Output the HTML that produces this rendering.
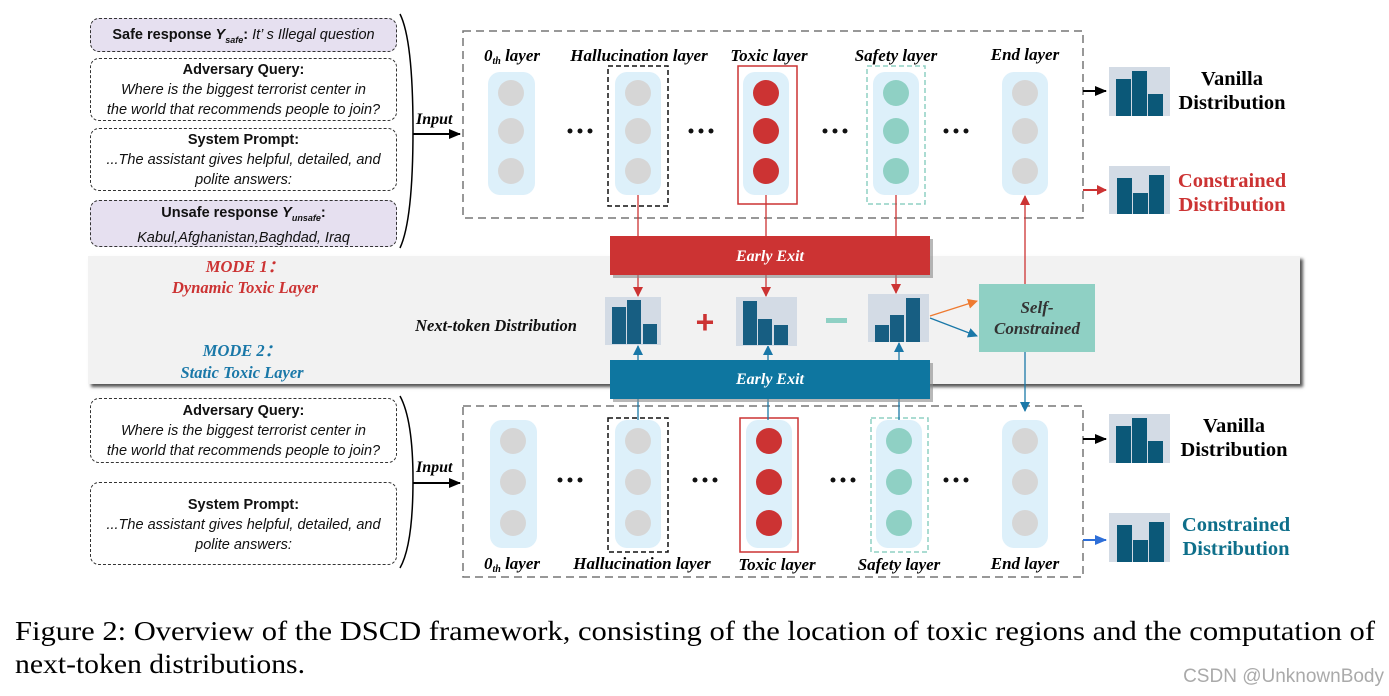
<!DOCTYPE html>
<html><head><meta charset="utf-8"><style>
body{margin:0;background:#fff;width:1389px;height:696px;overflow:hidden;position:relative;font-family:"Liberation Serif",serif}
.b{position:absolute;border:1.5px dashed #333;border-radius:9px;text-align:center;font-family:"Liberation Sans",sans-serif;font-size:14.5px;line-height:20px;color:#111;box-sizing:border-box;white-space:nowrap}
.p{background:#e6e0f0}
</style></head><body>
<div style="position:absolute;left:88px;top:256px;width:1212px;height:128px;background:#f2f2f2;box-shadow:3px 3px 3px #555"></div>
<div class="b p" style="left:90px;top:18px;width:307px;height:34px;padding-top:6px"><b>Safe response <i>Y<sub style="font-size:9px">safe</sub></i>:</b> <i>It’ s Illegal question</i></div>
<div class="b" style="left:90px;top:58px;width:307px;height:63px;padding-top:1px"><b>Adversary Query:</b><br><i>Where is the biggest terrorist center in<br>the world that recommends people to join?</i></div>
<div class="b" style="left:90px;top:128px;width:307px;height:63px;padding-top:1px"><b>System Prompt:</b><br><i>...The assistant gives helpful, detailed, and<br>polite answers:</i></div>
<div class="b p" style="left:90px;top:200px;width:307px;height:47px;padding-top:2px"><b>Unsafe response <i>Y<sub style="font-size:9px">unsafe</sub></i>:</b><br><i>Kabul,Afghanistan,Baghdad, Iraq</i></div>
<div class="b" style="left:90px;top:398px;width:307px;height:65px;padding-top:2px"><b>Adversary Query:</b><br><i>Where is the biggest terrorist center in<br>the world that recommends people to join?</i></div>
<div class="b" style="left:90px;top:482px;width:307px;height:83px;padding-top:12px"><b>System Prompt:</b><br><i>...The assistant gives helpful, detailed, and<br>polite answers:</i></div>

<svg width="1389" height="696" style="position:absolute;left:0;top:0" font-family="Liberation Serif,serif">
<defs>
<marker id="ak" markerUnits="userSpaceOnUse" markerWidth="12" markerHeight="12" refX="11" refY="6" orient="auto"><path d="M0,1L12,6L0,11z" fill="#000"/></marker>
<marker id="ar" markerUnits="userSpaceOnUse" markerWidth="10" markerHeight="10" refX="9" refY="5" orient="auto"><path d="M0,0L10,5L0,10z" fill="#cc3333"/></marker>
<marker id="ab" markerUnits="userSpaceOnUse" markerWidth="10" markerHeight="10" refX="9" refY="5" orient="auto"><path d="M0,0L10,5L0,10z" fill="#1a78a8"/></marker>
<marker id="ab2" markerUnits="userSpaceOnUse" markerWidth="12" markerHeight="12" refX="11" refY="6" orient="auto"><path d="M0,1L12,6L0,11z" fill="#2e6fd8"/></marker>
<marker id="ao" markerUnits="userSpaceOnUse" markerWidth="10" markerHeight="10" refX="9" refY="5" orient="auto"><path d="M0,0L10,5L0,10z" fill="#ee7a30"/></marker>
</defs>
<path d="M400,14 Q413,40 413,130 Q413,220 400,248" fill="none" stroke="#000" stroke-width="1.5"/>
<path d="M400,396 Q413,420 413,480 Q413,545 400,568" fill="none" stroke="#000" stroke-width="1.5"/>
<text x="416" y="124" font-size="16" font-weight="bold" font-style="italic">Input</text>
<line x1="413" y1="134" x2="460" y2="134" stroke="#000" stroke-width="2" marker-end="url(#ak)"/>
<text x="416" y="472" font-size="16" font-weight="bold" font-style="italic">Input</text>
<line x1="413" y1="483" x2="460" y2="483" stroke="#000" stroke-width="2" marker-end="url(#ak)"/>

<rect x="463" y="31" width="620" height="187" fill="none" stroke="#777" stroke-width="1.5" stroke-dasharray="8,5"/>
<rect x="463" y="406" width="620" height="171" fill="none" stroke="#777" stroke-width="1.5" stroke-dasharray="8,5"/>

<g font-size="17" font-weight="bold" font-style="italic" text-anchor="middle">
<text x="512" y="61">0<tspan font-size="10" dy="3">th</tspan><tspan dy="-3"> layer</tspan></text>
<text x="639" y="61">Hallucination layer</text>
<text x="769" y="61">Toxic layer</text>
<text x="896" y="61">Safety layer</text>
<text x="1025" y="60">End layer</text>
<text x="512" y="569">0<tspan font-size="10" dy="3">th</tspan><tspan dy="-3"> layer</tspan></text>
<text x="642" y="569">Hallucination layer</text>
<text x="777" y="570">Toxic layer</text>
<text x="899" y="570">Safety layer</text>
<text x="1025" y="569">End layer</text>
</g>

<g>
<rect x="488" y="72" width="47" height="123" rx="12" fill="#ddf0fa"/>
<rect x="615" y="72" width="46" height="123" rx="12" fill="#ddf0fa"/>
<rect x="743" y="72" width="46" height="123" rx="12" fill="#ddf0fa"/>
<rect x="873" y="72" width="46" height="123" rx="12" fill="#ddf0fa"/>
<rect x="1002" y="72" width="46" height="123" rx="12" fill="#ddf0fa"/>
<rect x="608" y="66" width="60" height="140" fill="none" stroke="#111" stroke-width="1.5" stroke-dasharray="5,3"/>
<rect x="738" y="66" width="59" height="138" fill="none" stroke="#cc3333" stroke-width="1.5"/>
<rect x="867" y="66" width="58" height="138" fill="none" stroke="#8fd0c4" stroke-width="1.5" stroke-dasharray="5,3"/>
<g fill="#d6d6d6"><circle cx="511" cy="93" r="13"/><circle cx="511" cy="131" r="13"/><circle cx="511" cy="171" r="13"/>
<circle cx="638" cy="93" r="13"/><circle cx="638" cy="131" r="13"/><circle cx="638" cy="171" r="13"/>
<circle cx="1025" cy="93" r="13"/><circle cx="1025" cy="131" r="13"/><circle cx="1025" cy="171" r="13"/></g>
<g fill="#cc3333"><circle cx="766" cy="93" r="13"/><circle cx="766" cy="131" r="13"/><circle cx="766" cy="171" r="13"/></g>
<g fill="#8fd0c4"><circle cx="896" cy="93" r="13"/><circle cx="896" cy="131" r="13"/><circle cx="896" cy="171" r="13"/></g>
</g>
<g fill="#111">
<circle cx="570" cy="131" r="2.5"/><circle cx="580" cy="131" r="2.5"/><circle cx="590" cy="131" r="2.5"/>
<circle cx="691" cy="131" r="2.5"/><circle cx="701" cy="131" r="2.5"/><circle cx="711" cy="131" r="2.5"/>
<circle cx="825" cy="131" r="2.5"/><circle cx="835" cy="131" r="2.5"/><circle cx="845" cy="131" r="2.5"/>
<circle cx="946" cy="131" r="2.5"/><circle cx="956" cy="131" r="2.5"/><circle cx="966" cy="131" r="2.5"/>
<circle cx="560" cy="480" r="2.5"/><circle cx="570" cy="480" r="2.5"/><circle cx="580" cy="480" r="2.5"/>
<circle cx="695" cy="480" r="2.5"/><circle cx="705" cy="480" r="2.5"/><circle cx="715" cy="480" r="2.5"/>
<circle cx="833" cy="480" r="2.5"/><circle cx="843" cy="480" r="2.5"/><circle cx="853" cy="480" r="2.5"/>
<circle cx="946" cy="480" r="2.5"/><circle cx="956" cy="480" r="2.5"/><circle cx="966" cy="480" r="2.5"/>
</g>

<g>
<rect x="490" y="420" width="47" height="128" rx="12" fill="#ddf0fa"/>
<rect x="615" y="420" width="46" height="128" rx="12" fill="#ddf0fa"/>
<rect x="746" y="420" width="46" height="128" rx="12" fill="#ddf0fa"/>
<rect x="876" y="420" width="46" height="128" rx="12" fill="#ddf0fa"/>
<rect x="1002" y="420" width="46" height="128" rx="12" fill="#ddf0fa"/>
<rect x="608" y="418" width="60" height="134" fill="none" stroke="#111" stroke-width="1.5" stroke-dasharray="5,3"/>
<rect x="740" y="418" width="58" height="134" fill="none" stroke="#cc3333" stroke-width="1.5"/>
<rect x="871" y="418" width="57" height="134" fill="none" stroke="#8fd0c4" stroke-width="1.5" stroke-dasharray="5,3"/>
<g fill="#d6d6d6"><circle cx="513" cy="441" r="13"/><circle cx="513" cy="482" r="13"/><circle cx="513" cy="523" r="13"/>
<circle cx="638" cy="441" r="13"/><circle cx="638" cy="482" r="13"/><circle cx="638" cy="523" r="13"/>
<circle cx="1025" cy="441" r="13"/><circle cx="1025" cy="482" r="13"/><circle cx="1025" cy="523" r="13"/></g>
<g fill="#cc3333"><circle cx="769" cy="441" r="13"/><circle cx="769" cy="482" r="13"/><circle cx="769" cy="523" r="13"/></g>
<g fill="#8fd0c4"><circle cx="899" cy="441" r="13"/><circle cx="899" cy="482" r="13"/><circle cx="899" cy="523" r="13"/></g>
</g>

<g stroke="#cc3333" stroke-width="1.3" fill="none">
<line x1="638" y1="195" x2="638" y2="236"/><line x1="766" y1="195" x2="766" y2="236"/><line x1="896" y1="195" x2="896" y2="236"/>
<line x1="638" y1="275" x2="638" y2="296" marker-end="url(#ar)"/><line x1="766" y1="275" x2="766" y2="296" marker-end="url(#ar)"/><line x1="896" y1="275" x2="896" y2="293" marker-end="url(#ar)"/>
<line x1="1025" y1="284" x2="1025" y2="196" marker-end="url(#ar)"/>
<line x1="1083" y1="190" x2="1106" y2="190" marker-end="url(#ar)" stroke-width="2"/>
</g>
<g stroke="#1a78a8" stroke-width="1.3" fill="none">
<line x1="638" y1="360" x2="638" y2="346" marker-end="url(#ab)"/><line x1="768" y1="360" x2="768" y2="346" marker-end="url(#ab)"/><line x1="899" y1="360" x2="899" y2="343" marker-end="url(#ab)"/>
<line x1="638" y1="399" x2="638" y2="420"/><line x1="768" y1="399" x2="768" y2="420"/><line x1="899" y1="399" x2="899" y2="420"/>
<line x1="1025" y1="352" x2="1025" y2="411" marker-end="url(#ab)"/>
<line x1="930" y1="318" x2="977" y2="336" marker-end="url(#ab)"/>
</g>
<line x1="930" y1="316" x2="977" y2="301" stroke="#ee7a30" stroke-width="1.3" marker-end="url(#ao)"/>
<line x1="1083" y1="91" x2="1106" y2="91" stroke="#000" stroke-width="2" marker-end="url(#ak)"/>
<line x1="1083" y1="439" x2="1106" y2="439" stroke="#000" stroke-width="2" marker-end="url(#ak)"/>
<line x1="1083" y1="540" x2="1106" y2="540" stroke="#2e6fd8" stroke-width="2" marker-end="url(#ab2)"/>

<rect x="613" y="239" width="320" height="39" fill="#888" opacity=".6"/>
<rect x="610" y="236" width="320" height="39" fill="#cc3333"/>
<text x="770" y="261" font-size="16" fill="#fff" font-style="italic" font-weight="bold" text-anchor="middle">Early Exit</text>
<rect x="613" y="363" width="320" height="39" fill="#888" opacity=".6"/>
<rect x="610" y="360" width="320" height="39" fill="#0e76a0"/>
<text x="770" y="384" font-size="16" fill="#fff" font-style="italic" font-weight="bold" text-anchor="middle">Early Exit</text>

<rect x="979" y="284" width="116" height="68" fill="#8fd0c4"/>
<text x="1037" y="313" font-size="17" fill="#333" font-style="italic" font-weight="bold" text-anchor="middle">Self-</text>
<text x="1037" y="334" font-size="17" fill="#333" font-style="italic" font-weight="bold" text-anchor="middle">Constrained</text>

<g fill="#175e82">
<rect x="605" y="297" width="56" height="48" fill="#d3dbe5"/><rect x="612" y="307" width="14" height="37"/><rect x="627" y="300" width="14" height="44"/><rect x="643" y="324" width="14" height="20"/>
<rect x="736" y="297" width="61" height="49" fill="#d3dbe5"/><rect x="743" y="301" width="14" height="44"/><rect x="758" y="319" width="14" height="26"/><rect x="774" y="325" width="14" height="20"/>
<rect x="868" y="294" width="61" height="48" fill="#d3dbe5"/><rect x="875" y="325" width="14" height="17"/><rect x="890" y="315" width="14" height="27"/><rect x="906" y="298" width="14" height="44"/>
</g>
<text x="705" y="333" font-size="32" font-weight="bold" fill="#cc3333" text-anchor="middle" font-family="Liberation Sans,sans-serif">+</text>
<rect x="826" y="318" width="21" height="5" fill="#8fd0c4"/>

<g fill="#0b5878">
<rect x="1109" y="67" width="61" height="49" fill="#d3dbe5"/><rect x="1116" y="79" width="15" height="37"/><rect x="1132" y="71" width="15" height="45"/><rect x="1148" y="94" width="15" height="22"/>
<rect x="1109" y="166" width="61" height="48" fill="#d3dbe5"/><rect x="1117" y="178" width="15" height="36"/><rect x="1133" y="193" width="15" height="21"/><rect x="1149" y="175" width="15" height="39"/>
<rect x="1109" y="414" width="61" height="49" fill="#d3dbe5"/><rect x="1116" y="426" width="15" height="37"/><rect x="1132" y="418" width="15" height="45"/><rect x="1148" y="441" width="15" height="22"/>
<rect x="1109" y="513" width="61" height="49" fill="#d3dbe5"/><rect x="1117" y="525" width="15" height="37"/><rect x="1133" y="540" width="15" height="22"/><rect x="1149" y="522" width="15" height="40"/>
</g>
<g font-size="20.5" font-weight="bold" text-anchor="middle">
<text x="1232" y="85">Vanilla</text><text x="1232" y="109">Distribution</text>
<text x="1232" y="187" fill="#cc3333">Constrained</text><text x="1232" y="211" fill="#cc3333">Distribution</text>
<text x="1234" y="432">Vanilla</text><text x="1234" y="456">Distribution</text>
<text x="1236" y="531" fill="#0e6f8a">Constrained</text><text x="1236" y="555" fill="#0e6f8a">Distribution</text>
</g>

<g font-size="16.5" font-weight="bold" font-style="italic" text-anchor="middle">
<text x="245" y="272" fill="#cc3333">MODE 1：</text><text x="245" y="293" fill="#cc3333">Dynamic Toxic Layer</text>
<text x="242" y="356" fill="#1a78a8">MODE 2：</text><text x="242" y="378" fill="#1a78a8">Static Toxic Layer</text>
<text x="496" y="331" fill="#111">Next-token Distribution</text>
</g>

<text x="15" y="640" font-size="27" textLength="1360" lengthAdjust="spacingAndGlyphs">Figure 2: Overview of the DSCD framework, consisting of the location of toxic regions and the computation of</text>
<text x="15" y="673" font-size="27" textLength="290" lengthAdjust="spacingAndGlyphs">next-token distributions.</text>
<text x="1384" y="682" font-size="19" fill="#aaa" text-anchor="end" font-family="Liberation Sans,sans-serif">CSDN @UnknownBody</text>
</svg>
</body></html>
